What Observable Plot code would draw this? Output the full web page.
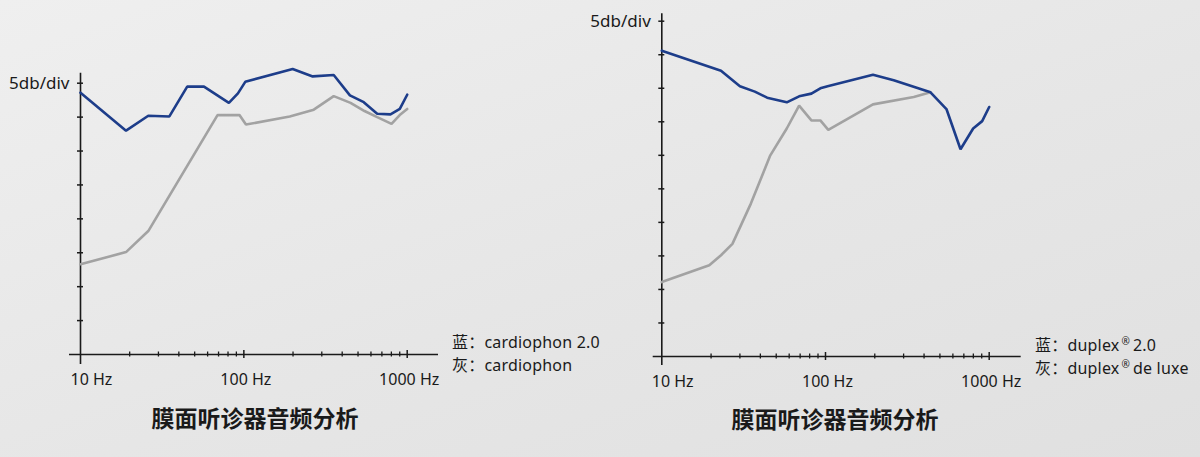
<!DOCTYPE html>
<html>
<head>
<meta charset="utf-8">
<script src="https://cdn.jsdelivr.net/npm/d3@7"></script>
<script src="https://cdn.jsdelivr.net/npm/@observablehq/plot@0.6"></script>
<style>
  html, body { margin: 0; padding: 0; }
  body { width: 1200px; height: 457px; overflow: hidden;
         background: linear-gradient(160deg, #efefef 0%, #e6e6e6 55%, #e0e0e0 100%);
         font-family: "Noto Sans", "Open Sans", sans-serif; }
  #page { position: relative; width: 1200px; height: 457px; }
  .chart { position: absolute; top: 0; }
  .legend { position: absolute; color: #1a1a1a;
            font-family: "Noto Sans", "Noto Sans CJK SC", sans-serif; white-space: nowrap; }
  .legend div { font-size: 16px; line-height: 23px; height: 23px; letter-spacing: 0.2px; }
  .legend sup { font-size: 10px; line-height: 0; vertical-align: 6px; margin: 0 3px 0 2px; }
  .title { position: absolute; font-size: 23px; font-weight: bold; color: #1a1a1a;
           font-family: "Noto Sans CJK SC", sans-serif; transform: translate(-50%, -50%); white-space: nowrap; }
</style>
</head>
<body>
<div id="page"></div>
<script>
// ---------- data ----------
const titleText = "膜面听诊器音频分析";
const scaleLabel = "5db/div";
const freqLabels = ["10 Hz", "100 Hz", "1000 Hz"];
const freqLabelValues = [10, 100, 1000];
const minorFreqTicks = [20, 30, 40, 50, 60, 70, 80, 90, 200, 300, 400, 500, 600, 700, 800, 900];
const majorFreqTicks = [100, 1000];

// left chart: cardiophon 2.0 (blue) vs cardiophon (gray), dB relative
const cardio20Freq = [10, 19, 26, 35, 45, 57, 81, 92, 102, 199, 264, 355, 446, 542, 655, 790, 901, 1000];
const cardio20Db   = [38.6, 33.0, 35.2, 35.1, 39.5, 39.5, 37.1, 38.5, 40.2, 42.1, 41.0, 41.2, 38.2, 37.2, 35.5, 35.4, 36.2, 38.3];
const cardioFreq   = [10, 19, 26, 69, 94, 103, 191, 268, 355, 450, 548, 655, 802, 900, 1000];
const cardioDb     = [13.3, 15.1, 18.2, 35.3, 35.3, 33.9, 35.1, 36.1, 38.1, 37.1, 35.9, 35.0, 34.0, 35.3, 36.2];
const leftYTicks   = [5, 10, 15, 20, 25, 30, 35, 40];

// right chart: duplex 2.0 (blue) vs duplex de luxe (gray)
const duplex20Freq = [10, 23, 30, 37, 44, 58, 69, 82, 93, 103, 195, 261, 438, 548, 668, 798, 906, 1000];
const duplex20Db   = [45.6, 42.6, 40.3, 39.5, 38.6, 37.9, 38.8, 39.2, 40.0, 40.3, 42.0, 41.2, 39.4, 36.9, 30.9, 34.0, 35.1, 37.2];
const deluxeFreq   = [10, 19.5, 23, 27, 35, 46, 58, 69, 82, 93, 104, 195, 346, 438];
const deluxeDb     = [11.1, 13.6, 15.1, 16.8, 22.8, 30.0, 34.0, 37.4, 35.2, 35.2, 33.8, 37.6, 38.7, 39.4];
const rightYTicks  = [5, 10, 15, 20, 25, 30, 35, 40, 45, 50];

const leftLegend  = ["蓝：cardiophon 2.0", "灰：cardiophon"];
const rightLegend = ["蓝：duplex<sup>®</sup>2.0", "灰：duplex<sup>®</sup>de luxe"];

const blue = "#1d3d8a";
const gray = "#a2a2a2";
const ink = "#1a1a1a";

function zip(fs, vs) { return fs.map((f, i) => ({f, v: vs[i]})); }
const freqLabelData = freqLabels.map((label, i) => ({label, f: freqLabelValues[i], v: 0}));

function makeChart(o) {
  const yMax = o.yTicks[o.yTicks.length - 1];
  return Plot.plot({
    width: 600, height: 400,
    marginLeft: o.mL, marginRight: o.mR, marginTop: o.mT, marginBottom: o.mB,
    style: {background: "transparent", overflow: "visible", fontFamily: "'Noto Sans', 'Open Sans', sans-serif"},
    x: {type: "log", domain: [10, 1000], range: o.xRange, axis: null},
    y: {domain: [0, yMax], range: o.yRange, axis: null},
    marks: [
      // axes lines
      Plot.ruleY([0], {stroke: ink, strokeWidth: 1.6}),
      Plot.ruleX([10], {stroke: ink, strokeWidth: 1.6}),
      // y ticks
      Plot.ruleY(o.yTicks, {x1: 10, x2: 10, insetLeft: -3, insetRight: -3, stroke: ink, strokeWidth: 1.5}),
      // x ticks
      Plot.ruleX(minorFreqTicks, {y1: 0, y2: 0, insetTop: -2.5, insetBottom: -2.5, stroke: ink, strokeWidth: 1.3}),
      Plot.ruleX(majorFreqTicks, {y1: 0, y2: 0, insetTop: -4, insetBottom: -4, stroke: ink, strokeWidth: 1.5}),
      // data lines
      Plot.line(zip(o.grayF, o.grayV), {x: "f", y: "v", stroke: gray, strokeWidth: 2.6, strokeLinejoin: "miter"}),
      Plot.line(zip(o.blueF, o.blueV), {x: "f", y: "v", stroke: blue, strokeWidth: 2.6, strokeLinejoin: "miter"}),
      // labels
      Plot.text([{label: scaleLabel, f: 10, v: yMax}], {x: "f", y: "v", text: "label", textAnchor: "end", dx: -11, fontSize: 17, fill: ink}),
      Plot.text(freqLabelData.slice(0, 1), {x: "f", y: "v", text: "label", textAnchor: "start", dx: -10, dy: 25, fontSize: 16, fill: ink}),
      Plot.text(freqLabelData.slice(1), {x: "f", y: "v", text: "label", textAnchor: "middle", dx: 2, dy: 25, fontSize: 16, fill: ink}),
    ]
  });
}

const page = document.getElementById("page");

function addChart(left, o) {
  const wrap = document.createElement("div");
  wrap.className = "chart";
  wrap.style.left = left + "px";
  wrap.appendChild(makeChart(o));
  page.appendChild(wrap);
}

addChart(0, {
  mL: 69, mR: 162, mT: 72.7, mB: 36,
  xRange: [80, 406.7], yRange: [354, 82.7],
  yTicks: leftYTicks,
  blueF: cardio20Freq, blueV: cardio20Db, grayF: cardioFreq, grayV: cardioDb
});
addChart(600, {
  mL: 52.7, mR: 179.3, mT: 13.3, mB: 35,
  xRange: [61.3, 388.7], yRange: [356, 20.7],
  yTicks: rightYTicks,
  blueF: duplex20Freq, blueV: duplex20Db, grayF: deluxeFreq, grayV: deluxeDb
});

// legends
function addLegend(x, y, lines) {
  const d = document.createElement("div");
  d.className = "legend";
  d.style.left = x + "px"; d.style.top = y + "px";
  lines.forEach(html => {
    const row = document.createElement("div");
    row.innerHTML = html;
    d.appendChild(row);
  });
  page.appendChild(d);
}
addLegend(452, 330.5, leftLegend);
addLegend(1035, 333.5, rightLegend);

function addTitle(cx, cy) {
  const d = document.createElement("div");
  d.className = "title";
  d.style.left = cx + "px"; d.style.top = cy + "px";
  d.textContent = titleText;
  page.appendChild(d);
}
addTitle(255, 417);
addTitle(835, 418);
</script>
</body>
</html>
